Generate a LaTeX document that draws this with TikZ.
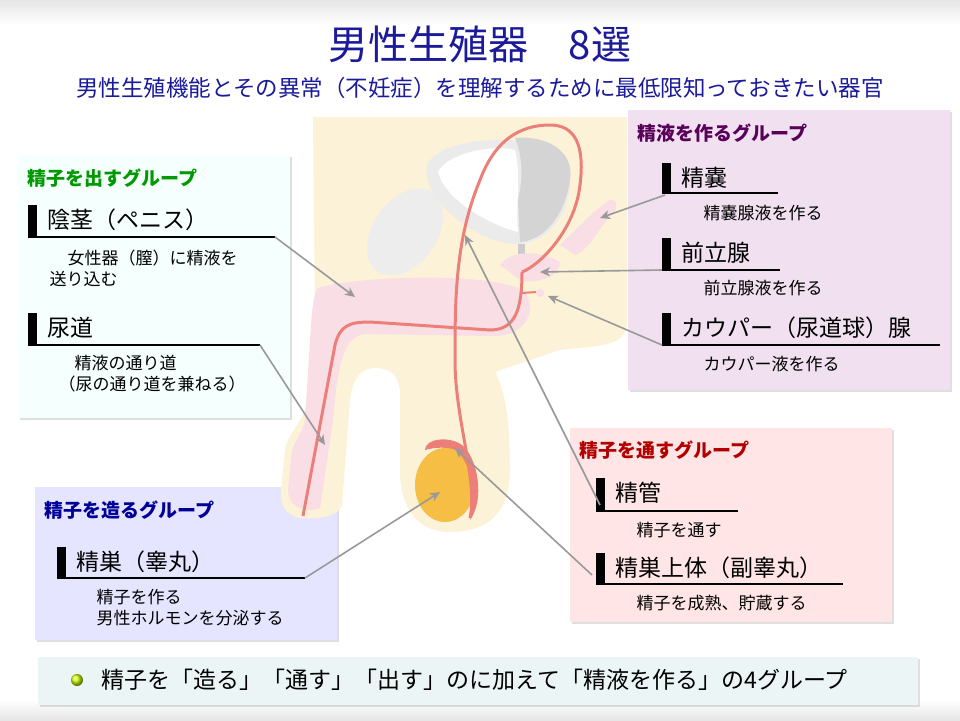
\documentclass[tikz,border=0pt]{standalone}
\usepackage{fontspec}
\setmainfont{Noto Sans CJK JP}
\usetikzlibrary{arrows.meta,shadows}
\definecolor{skin}{HTML}{FCF2D8}
\definecolor{pinkc}{HTML}{F9DEE6}
\definecolor{redl}{HTML}{EC8078}
\definecolor{testc}{HTML}{F6BE45}
\definecolor{titleblue}{HTML}{1A1A9A}
\begin{document}
\begin{tikzpicture}[x=1pt,y=-1pt,
  grp/.style={draw=none,drop shadow={shadow xshift=2pt,shadow yshift=-2pt,opacity=.25}},
  gtitle/.style={anchor=west,font=\fontsize{19}{22}\selectfont\bfseries},
  item/.style={anchor=west,font=\fontsize{23}{26}\selectfont},
  sub/.style={anchor=west,font=\fontsize{17}{21}\selectfont,align=left},
  bar/.style={fill=black},
  uline/.style={line width=1.6pt},
  pt/.style={draw=black!40,line width=1.6pt,-{Stealth[length=10pt,width=9pt,inset=3pt]}},
  vas/.style={draw=redl,line width=3pt}]
\useasboundingbox (0,0) rectangle (960,720);
\fill[top color=black!10,bottom color=white] (0,0) rectangle (960,25);
\fill[top color=white,bottom color=black!10] (0,700) rectangle (960,720);
% titles
\node[font=\fontsize{40}{44}\selectfont,text=titleblue] (title) at (480,44) {男性生殖器　8選};
\node[font=\fontsize{22.5}{26}\selectfont,text=titleblue] (subt) at (480,88) {男性生殖機能とその異常（不妊症）を理解するために最低限知っておきたい器官};
% group boxes
\fill[grp,fill=green!5!cyan!4] (18,155) rectangle (290,418);
\fill[grp,fill=violet!12] (628,110) rectangle (950,390);
\fill[grp,fill=red!10] (570,428) rectangle (892,622);
\fill[grp,fill=blue!10] (35,487) rectangle (337,640);
% body
\fill[skin] (313,117) -- (627,117) -- (627,320) .. controls (627,345) and (610,345) .. (560,350)
 -- (495,372) .. controls (505,390) and (510,420) .. (510,470) .. controls (510,520) and (480,532) .. (450,532)
 .. controls (415,532) and (400,505) .. (400,470) -- (400,395) .. controls (400,375) and (390,368) .. (375,368)
 .. controls (360,368) and (352,380) .. (350,400) -- (342,505) .. controls (340,515) and (320,520) .. (300,518)
 .. controls (285,515) and (280,505) .. (281,490) -- (285,450) .. controls (287,435) and (300,425) .. (305,410)
 -- (315,330) -- cycle;
% bone and bladder
\fill[black!7,rotate around={55:(405,232)}] (405,232) ellipse (48 and 32);
\fill[black!8] (427,165) .. controls (440,135) and (540,130) .. (565,160) .. controls (580,190) and (560,240) .. (520,244) .. controls (480,246) and (420,200) .. (427,165) -- cycle;
\fill[black!17] (515,138) .. controls (545,135) and (575,150) .. (570,180) .. controls (565,215) and (545,240) .. (520,242) -- (518,200) .. controls (525,170) and (520,150) .. (515,138) -- cycle;
\fill[white] (438,172) .. controls (450,150) and (500,145) .. (515,150) .. controls (522,180) and (515,205) .. (518,232) .. controls (490,225) and (445,200) .. (438,172) -- cycle;
\fill[black!20] (518,244) rectangle (525,270);
% pink organs
\fill[pinkc] (318,288) .. controls (360,275) and (500,272) .. (525,292) .. controls (540,315) and (520,338) .. (490,336)
 -- (365,334) .. controls (345,336) and (338,360) .. (333,420) -- (320,508) .. controls (302,514) and (288,505) .. (288,490)
 -- (292,450) .. controls (295,440) and (302,435) .. (305,420) -- (310,340) .. controls (312,310) and (313,295) .. (318,288) -- cycle;
\fill[pinkc] (500,265) .. controls (510,250) and (540,250) .. (560,262) .. controls (560,275) and (540,285) .. (520,280) -- cycle;
\fill[pinkc] (560,245) .. controls (580,225) and (600,205) .. (610,200) .. controls (618,198) and (618,210) .. (612,215) .. controls (600,225) and (590,250) .. (575,255) -- cycle;
\fill[pinkc] (540,293) circle (4);
% testis
\fill[testc] (445,485) ellipse (30 and 37);
\fill[redl] (425,450) .. controls (425,438) and (450,436) .. (462,445) .. controls (478,458) and (485,500) .. (470,520) .. controls (478,495) and (470,460) .. (455,450) .. controls (445,446) and (432,448) .. (425,450) -- cycle;
% vas deferens and urethra
\draw[vas] (470,518) .. controls (478,480) and (455,420) .. (455,360) .. controls (455,300) and (455,240) .. (480,180)
 .. controls (495,140) and (520,125) .. (550,125) .. controls (575,125) and (585,145) .. (580,185) .. controls (575,230) and (540,265) .. (522,272);
\draw[vas] (303,516) -- (335,345) .. controls (340,325) and (350,322) .. (370,322) -- (490,330) .. controls (515,330) and (522,310) .. (522,272);
\draw[vas,line width=2pt] (522,293) -- (536,292);
% targets
\coordinate (tpenis) at (355,297);
\coordinate (turethra) at (325,445);
\coordinate (ttestis) at (440,492);
\coordinate (tsv) at (600,218);
\coordinate (tpro) at (540,272);
\coordinate (tcow) at (548,296);
\coordinate (tvas) at (465,235);
\coordinate (tepi) at (455,448);
% green group
\node[gtitle,text=green!60!black] (g1) at (24,178) {精子を出すグループ};
\fill[bar] (28,205) rectangle (37,237);
\node[item] (penis) at (44,220) {陰茎（ペニス）};
\draw[uline] (28,237) -- (275,237) coordinate (spenis);
\node[sub] (penisd) at (46,268) {\hspace{18pt}女性器（膣）に精液を\\送り込む};
\fill[bar] (28,313) rectangle (37,345);
\node[item] (ureth) at (44,328) {尿道};
\draw[uline] (28,345) -- (260,345) coordinate (sureth);
\node[sub] (urethd) at (55,374) {\hspace{16pt}精液の通り道\\（尿の通り道を兼ねる）};
% purple group
\node[gtitle,text=violet!70!black] (g2) at (634,133) {精液を作るグループ};
\fill[bar] (662,163) rectangle (671,193);
\node[item] (sv) at (678,178) {精嚢};
\draw[uline] (662,193) -- (778,193);
\coordinate (ssv) at (665,195);
\node[sub] (svd) at (700,213) {精嚢腺液を作る};
\fill[bar] (662,238) rectangle (671,270);
\node[item] (pro) at (678,253) {前立腺};
\draw[uline] (662,270) -- (780,270);
\coordinate (spro) at (662,270);
\node[sub] (prod) at (700,288) {前立腺液を作る};
\fill[bar] (662,313) rectangle (671,345);
\node[item] (cow) at (678,328) {カウパー（尿道球）腺};
\draw[uline] (662,345) -- (940,345);
\coordinate (scow) at (662,345);
\node[sub] (cowd) at (700,364) {カウパー液を作る};
% red group
\node[gtitle,text=red!70!black] (g3) at (576,450) {精子を通すグループ};
\fill[bar] (596,478) rectangle (605,511);
\node[item] (vasl) at (612,493) {精管};
\draw[uline] (596,511) -- (738,511);
\coordinate (svas) at (600,505);
\node[sub] (vasd) at (633,530) {精子を通す};
\fill[bar] (596,553) rectangle (605,584);
\node[item] (epi) at (612,568) {精巣上体（副睾丸）};
\draw[uline] (596,584) -- (843,584);
\coordinate (sepi) at (592,575);
\node[sub] (epid) at (633,603) {精子を成熟、貯蔵する};
% blue group
\node[gtitle,text=blue!60!black] (g4) at (41,510) {精子を造るグループ};
\fill[bar] (57,547) rectangle (66,578);
\node[item] (tes) at (73,562) {精巣（睾丸）};
\draw[uline] (57,578) -- (305,578) coordinate (stes);
\node[sub] (tesd) at (93,608) {精子を作る\\男性ホルモンを分泌する};
% arrows
\draw[pt] (spenis) -- (tpenis);
\draw[pt] (sureth) -- (turethra);
\draw[pt] (stes) -- (ttestis);
\draw[pt] (ssv) -- (tsv);
\draw[pt] (spro) -- (tpro);
\draw[pt] (scow) -- (tcow);
\draw[pt] (svas) -- (tvas);
\draw[pt] (sepi) -- (tepi);
% bottom bar
\fill[grp,fill=teal!8] (38,657) rectangle (918,705);
\shade[ball color=yellow!80!green] (77,680) circle (6);
\node[anchor=west,font=\fontsize{23}{26}\selectfont] (summary) at (98,680) {精子を「造る」「通す」「出す」のに加えて「精液を作る」の4グループ};
\end{tikzpicture}
\end{document}
